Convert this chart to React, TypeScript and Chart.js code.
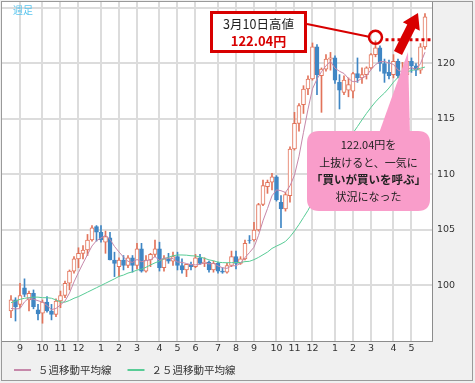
import React, { useEffect, useRef } from 'react';
import { Chart, registerables } from 'chart.js';

Chart.register(...registerables);

// Weekly USD/JPY candles, week index 0 = week of 2013-08-19
const open = [
  97.7, 98.7, 98.3, 99.8, 98.7, 99.3, 97.8, 97.5, 98.5, 97.7,
  97.4, 98.6, 99.1, 100.2, 101.3, 102.4, 102.9, 103.2, 104.1, 105.3,
  104.8, 103.9, 104.3, 102.3, 101.7, 102.3, 101.8, 102.5, 101.8, 103.3,
  101.3, 102.3, 102.8, 103.3, 101.6, 102.4, 102.2, 102.6, 101.8, 101.4,
  101.9, 101.7, 102.5, 102.0, 102.1, 101.4, 102.0, 101.3, 101.2, 101.8,
  102.6, 102.0, 102.4, 104.1, 104.1, 105.0, 107.3, 108.9, 109.3, 109.8,
  107.5, 106.9, 108.1, 112.3, 114.6, 116.3, 117.7, 118.6, 121.5, 118.9,
  119.5, 120.4, 120.5, 118.3, 117.4, 117.6, 117.5, 119.1, 118.7, 119.0,
  119.6, 120.8, 121.4, 120.0, 119.2, 119.0, 120.2, 118.8, 119.0, 120.2,
  119.8, 119.4, 121.5,
];
const high = [
  99.1, 98.9, 100.2, 100.6, 99.5, 99.6, 98.3, 98.7, 99.0, 98.3,
  98.8, 99.5, 100.4, 101.4, 102.6, 103.4, 103.6, 104.6, 105.4, 105.4,
  105.4, 104.9, 104.8, 103.0, 102.5, 102.7, 102.7, 102.7, 103.8, 103.8,
  102.7, 102.9, 104.1, 103.9, 102.7, 102.9, 103.0, 103.0, 102.4, 101.9,
  102.1, 102.8, 102.8, 102.5, 102.2, 102.2, 102.1, 101.6, 102.0, 103.1,
  103.1, 102.6, 104.1, 104.5, 105.7, 107.4, 109.5, 109.5, 110.1, 109.9,
  108.1, 108.4, 112.5, 115.6, 116.4, 118.0, 118.9, 121.85, 121.7, 119.6,
  120.8, 121.0, 120.7, 119.0, 118.9, 118.7, 119.2, 120.5, 119.6, 119.7,
  120.9, 122.04, 121.6, 120.4, 120.3, 120.8, 120.4, 120.1, 120.3, 120.5,
  120.0, 121.8, 124.5,
];
const low = [
  97.1, 96.8, 98.0, 99.0, 97.7, 97.9, 96.9, 96.6, 97.6, 96.9,
  97.2, 98.0, 98.9, 99.6, 101.1, 101.6, 102.4, 102.7, 104.0, 104.0,
  103.9, 102.9, 102.3, 100.8, 100.8, 101.4, 101.6, 101.2, 101.5, 101.2,
  101.2, 101.7, 102.6, 101.3, 101.3, 102.0, 101.8, 101.4, 101.1, 100.8,
  101.4, 101.6, 101.9, 101.7, 101.2, 101.2, 101.1, 101.1, 101.1, 101.7,
  101.5, 101.9, 102.3, 103.8, 104.0, 104.9, 107.2, 108.3, 108.6, 107.6,
  105.2, 106.7, 107.5, 112.2, 113.9, 115.5, 117.2, 118.5, 117.2, 115.6,
  119.3, 119.4, 118.2, 115.9, 117.2, 117.0, 116.9, 118.3, 118.2, 118.6,
  119.5, 120.6, 119.3, 118.3, 118.6, 118.7, 118.7, 118.5, 118.5, 119.2,
  118.9, 119.1, 121.3,
];
const close = [
  98.7, 98.1, 99.1, 99.2, 99.3, 98.1, 97.45, 98.5, 97.7, 97.4,
  98.6, 99.1, 100.2, 101.3, 102.4, 102.9, 103.2, 104.1, 105.2, 104.8,
  104.1, 104.4, 102.3, 102.0, 102.3, 101.8, 102.5, 101.8, 103.3, 101.3,
  102.3, 102.8, 103.3, 101.6, 102.4, 102.2, 102.6, 101.8, 101.4, 101.9,
  101.7, 102.5, 102.0, 102.1, 101.4, 102.0, 101.3, 101.2, 101.8, 102.6,
  102.0, 102.4, 103.8, 104.05, 105.0, 107.3, 109.0, 109.3, 109.8, 107.7,
  106.9, 108.2, 112.3, 114.6, 116.2, 117.7, 118.6, 121.5, 119.0, 119.5,
  120.4, 120.5, 118.5, 117.6, 118.5, 118.1, 119.1, 118.7, 119.0, 119.6,
  120.8, 121.4, 120.0, 119.1, 118.9, 120.2, 118.9, 119.0, 120.2, 119.8,
  119.4, 121.5, 124.2,
];
const ma5 = [
  97.93, 97.89, 97.92, 98.52, 98.88, 98.76, 98.63, 98.51, 98.21, 97.83,
  97.93, 98.26, 98.6, 99.32, 100.32, 101.18, 102.0, 102.78, 103.56, 104.04,
  104.28, 104.52, 104.16, 103.52, 103.02, 102.56, 102.18, 102.08, 102.34, 102.14,
  102.24, 102.3, 102.6, 102.26, 102.48, 102.46, 102.42, 102.12, 102.08, 101.98,
  101.88, 101.86, 101.9, 102.04, 101.94, 102.0, 101.76, 101.6, 101.54, 101.78,
  101.78, 102.0, 102.52, 102.97, 103.45, 104.51, 105.83, 106.93, 108.08, 108.62,
  108.54, 108.38, 108.98, 109.94, 111.64, 113.8, 115.88, 117.72, 118.6, 119.26,
  119.8, 120.18, 119.58, 119.3, 119.1, 118.64, 118.36, 118.4, 118.68, 118.9,
  119.44, 119.9, 120.16, 120.18, 120.04, 119.92, 119.42, 119.22, 119.44, 119.62,
  119.46, 119.98, 121.02,
];
const ma25 = [
  98.45, 98.6, 98.75, 98.85, 98.9, 98.95, 98.95, 98.9, 98.9, 98.85,
  98.7, 98.5, 98.5, 98.65, 98.85, 99.0, 99.2, 99.4, 99.6, 99.8,
  100.0, 100.2, 100.4, 100.6, 100.82, 100.94, 101.12, 101.23, 101.39, 101.47,
  101.64, 101.85, 102.04, 102.2, 102.4, 102.54, 102.68, 102.75, 102.75, 102.73,
  102.68, 102.66, 102.57, 102.45, 102.31, 102.23, 102.1, 102.06, 102.05, 102.06,
  102.07, 102.07, 102.15, 102.18, 102.33, 102.53, 102.77, 103.01, 103.34, 103.55,
  103.74, 103.97, 104.39, 104.91, 105.49, 106.13, 106.77, 107.55, 108.23, 108.95,
  109.69, 110.45, 111.15, 111.78, 112.41, 113.06, 113.73, 114.32, 114.92, 115.5,
  116.04, 116.54, 116.97, 117.34, 117.79, 118.32, 118.75, 119.02, 119.24, 119.38,
  119.45, 119.57, 119.68,
];

// month gridlines: week index of first week in each month
const monthTickIdx = [2, 7, 11, 15, 20, 24, 28, 33, 37, 41, 46, 50, 54, 59, 63, 67, 72, 76, 80, 85, 89];
const monthLabels = ['9', '10', '11', '12', '1', '2', '3', '4', '5', '6', '7', '8', '9', '10', '11', '12', '1', '2', '3', '4', '5'];
const yTicks = [100, 105, 110, 115, 120, 125];
const seriesLabels = ['５週移動平均線', '２５週移動平均線'];
const highWeekIdx = 81;
const highValue = 122.04;

const UP = '#e2735a';
const DOWN = '#3f86c4';
const MA5C = '#c688aa';
const MA25C = '#58cc96';
const RED = '#d80000';
const PINK = '#f99dca';
const GRID = '#dcdcdc';
const JP = '"Noto Sans CJK JP", sans-serif';

const zeroPad = (sc: any) => {
  sc.paddingLeft = 0;
  sc.paddingRight = 0;
  sc.paddingTop = 0;
  sc.paddingBottom = 0;
};

const decoPlugin = {
  id: 'deco',
  beforeDraw(chart: any) {
    const { ctx, chartArea: a, width, height } = chart;
    ctx.save();
    ctx.fillStyle = '#f0f0f0';
    ctx.fillRect(0, 0, width, height);
    ctx.fillStyle = '#ffffff';
    ctx.fillRect(a.left, a.top, a.right - a.left, a.bottom - a.top);
    ctx.restore();
  },
  afterDraw(chart: any) {
    const { ctx, width, height } = chart;
    const xs = chart.scales.x;
    const ys = chart.scales.y;
    ctx.save();

    // outer frame
    ctx.strokeStyle = '#9a9a9a';
    ctx.lineWidth = 1;
    ctx.strokeRect(1.5, 1.5, width - 4, height - 4);

    // 週足 label
    ctx.fillStyle = '#5cc6ee';
    ctx.font = `10px ${JP}`;
    ctx.textBaseline = 'middle';
    ctx.textAlign = 'left';
    ctx.fillText('週足', 13, 10);

    // pink bubble with pointer
    ctx.fillStyle = PINK;
    ctx.beginPath();
    ctx.moveTo(378, 136);
    ctx.lineTo(408, 52);
    ctx.lineTo(410, 136);
    ctx.closePath();
    ctx.fill();
    const bx = 307, by = 131, bw = 123, bh = 80, r = 12;
    ctx.beginPath();
    ctx.moveTo(bx + r, by);
    ctx.lineTo(bx + bw - r, by);
    ctx.quadraticCurveTo(bx + bw, by, bx + bw, by + r);
    ctx.lineTo(bx + bw, by + bh - r);
    ctx.quadraticCurveTo(bx + bw, by + bh, bx + bw - r, by + bh);
    ctx.lineTo(bx + r, by + bh);
    ctx.quadraticCurveTo(bx, by + bh, bx, by + bh - r);
    ctx.lineTo(bx, by + r);
    ctx.quadraticCurveTo(bx, by, bx + r, by);
    ctx.closePath();
    ctx.fill();
    ctx.fillStyle = '#222';
    ctx.textAlign = 'center';
    const cx = bx + bw / 2;
    ctx.font = `11px ${JP}`;
    ctx.fillText('122.04円を', cx, 145);
    ctx.fillText('上抜けると、一気に', cx, 163);
    ctx.font = `bold 11.5px ${JP}`;
    ctx.fillText('「買いが買いを呼ぶ」', cx, 180);
    ctx.font = `11px ${JP}`;
    ctx.fillText('状況になった', cx, 197);

    // red arrow
    const T = [398, 53], P = [418, 13];
    const dx = P[0] - T[0], dy = P[1] - T[1];
    const len = Math.hypot(dx, dy);
    const d = [dx / len, dy / len];
    const n = [-d[1], d[0]];
    const hl = 15, sw = 4.5, hw = 9.5;
    const B = [P[0] - d[0] * hl, P[1] - d[1] * hl];
    ctx.fillStyle = RED;
    ctx.beginPath();
    ctx.moveTo(T[0] + n[0] * sw, T[1] + n[1] * sw);
    ctx.lineTo(B[0] + n[0] * sw, B[1] + n[1] * sw);
    ctx.lineTo(B[0] + n[0] * hw, B[1] + n[1] * hw);
    ctx.lineTo(P[0], P[1]);
    ctx.lineTo(B[0] - n[0] * hw, B[1] - n[1] * hw);
    ctx.lineTo(B[0] - n[0] * sw, B[1] - n[1] * sw);
    ctx.lineTo(T[0] - n[0] * sw, T[1] - n[1] * sw);
    ctx.closePath();
    ctx.fill();

    // high marker
    const hx = xs.getPixelForValue(highWeekIdx);
    const hy = ys.getPixelForValue(highValue);
    ctx.strokeStyle = RED;
    ctx.lineWidth = 2.5;
    ctx.beginPath();
    ctx.arc(hx, hy - 3.5, 6.5, 0, Math.PI * 2);
    ctx.stroke();
    ctx.lineWidth = 3;
    ctx.setLineDash([3, 3]);
    ctx.beginPath();
    ctx.moveTo(hx + 10, hy - 1);
    ctx.lineTo(chart.chartArea.right, hy - 1);
    ctx.stroke();
    ctx.setLineDash([]);

    // connector + label box
    ctx.lineWidth = 2;
    ctx.beginPath();
    ctx.moveTo(307, 24);
    ctx.lineTo(hx - 6.5, hy - 4);
    ctx.stroke();
    ctx.fillStyle = '#ffffff';
    ctx.fillRect(211, 12, 95, 40);
    ctx.lineWidth = 3;
    ctx.strokeRect(211.5, 12.5, 94, 39);
    ctx.fillStyle = '#222';
    ctx.font = `12.5px ${JP}`;
    ctx.fillText('3月10日高値', 258.5, 24);
    ctx.fillStyle = RED;
    ctx.font = `bold 13px ${JP}`;
    ctx.fillText('122.04円', 258.5, 41);

    // legend
    const ly = 370;
    let lx = 14;
    ctx.font = `10.5px ${JP}`;
    ctx.textAlign = 'left';
    [0, 1].forEach((k) => {
      const ds = chart.data.datasets[k];
      ctx.strokeStyle = ds.borderColor;
      ctx.lineWidth = 2;
      ctx.beginPath();
      ctx.moveTo(lx, ly);
      ctx.lineTo(lx + 17, ly);
      ctx.stroke();
      ctx.fillStyle = '#333';
      ctx.fillText(ds.label, lx + 24, ly);
      lx += 24 + ctx.measureText(ds.label).width + 16;
    });
    ctx.restore();
  },
};

export default function App() {
  const ref = useRef<HTMLCanvasElement>(null);
  useEffect(() => {
    document.body.style.margin = '0';
    const canvas = ref.current!;
    const up = close.map((c, i) => c >= open[i]);
    const bodyData = open.map((o, i) => ({ x: i, y: [o, close[i]] }));
    const wickData = low.map((l, i) => ({ x: i, y: [l, high[i]] }));
    const tickFont = { family: '"DejaVu Sans", sans-serif', size: 9.5 };
    const chart = new Chart(canvas, {
      type: 'bar',
      data: {
        datasets: [
          {
            type: 'line', label: seriesLabels[0], data: ma5.map((v, i) => ({ x: i, y: v })),
            borderColor: MA5C, borderWidth: 1, pointRadius: 0, tension: 0, order: 0,
          },
          {
            type: 'line', label: seriesLabels[1], data: ma25.map((v, i) => ({ x: i, y: v })),
            borderColor: MA25C, borderWidth: 1, pointRadius: 0, tension: 0, order: 1,
          },
          {
            type: 'bar', label: 'body', data: bodyData,
            backgroundColor: up.map((u) => (u ? '#ffffff' : DOWN)),
            borderColor: up.map((u) => (u ? UP : DOWN)),
            borderWidth: 1, borderSkipped: false, barThickness: 4, grouped: false, order: 2,
          },
          {
            type: 'bar', label: 'wick', data: wickData,
            backgroundColor: up.map((u) => (u ? UP : DOWN)),
            borderWidth: 0, barThickness: 1, grouped: false, order: 3,
          },
        ] as any,
      },
      options: {
        responsive: false,
        animation: false,
        devicePixelRatio: 1,
        layout: { padding: { left: 2, top: 2, right: 0, bottom: 0 }, autoPadding: false },
        plugins: { legend: { display: false }, tooltip: { enabled: false } },
        scales: {
          x: {
            type: 'linear', min: -2, max: 93.56, offset: false,
            afterBuildTicks: (sc: any) => { sc.ticks = monthTickIdx.map((v) => ({ value: v })); },
            afterFit: (sc: any) => { sc.height = 42; zeroPad(sc); },
            ticks: {
              autoSkip: false, maxRotation: 0, padding: 2, color: '#333', font: tickFont,
              callback: (v: any) => { const k = monthTickIdx.indexOf(v); return k >= 0 ? monthLabels[k] : ''; },
            },
            grid: { color: GRID, lineWidth: 2, drawTicks: false, offset: false },
            border: { color: '#8c8c8c', width: 1 },
          },
          y: {
            type: 'linear', position: 'right', min: 95, max: 125.54,
            afterBuildTicks: (sc: any) => { sc.ticks = yTicks.map((v) => ({ value: v })); },
            afterFit: (sc: any) => { sc.width = 43; zeroPad(sc); },
            ticks: {
              padding: 5, color: '#333', font: tickFont,
              callback: (v: any) => (v === 125 ? '' : String(v)),
            },
            grid: { color: GRID, lineWidth: 2, drawTicks: false },
            border: { color: '#8c8c8c', width: 1 },
          },
        },
      } as any,
      plugins: [decoPlugin],
    });
    return () => chart.destroy();
  }, []);
  return (
    <div style={{ width: 475, height: 383 }}>
      <canvas ref={ref} width={475} height={383} style={{ display: 'block' }} />
    </div>
  );
}
